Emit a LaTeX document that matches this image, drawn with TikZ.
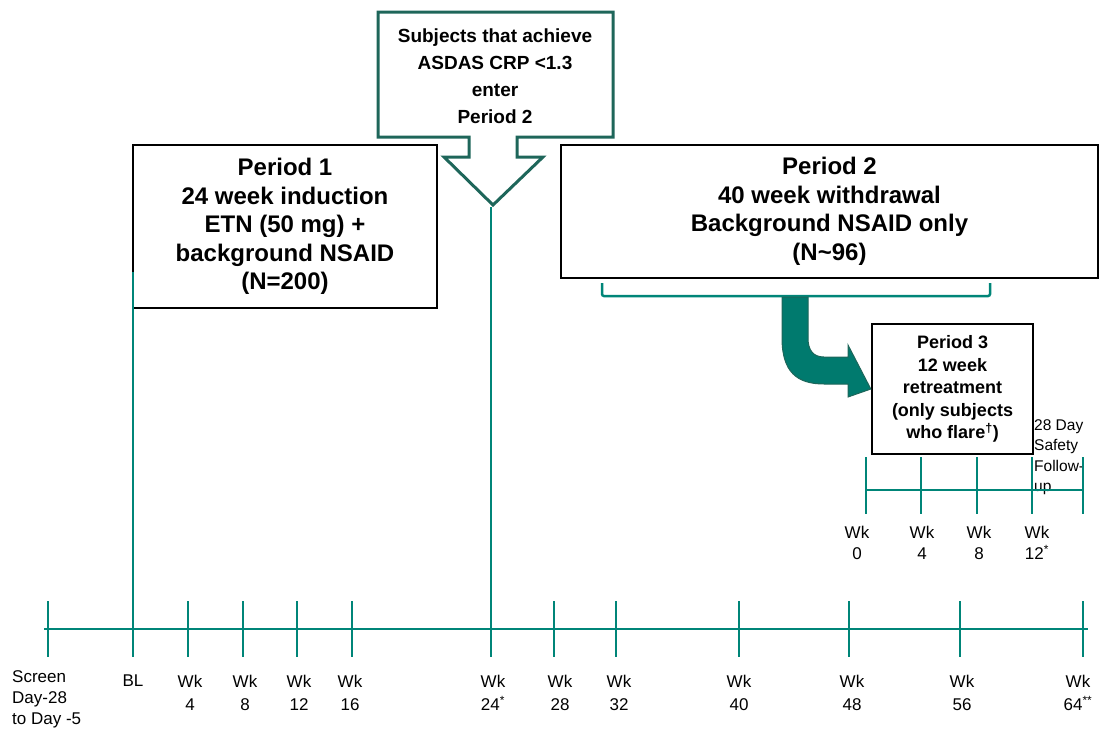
\documentclass[tikz,border=0pt]{standalone}
\usepackage{fontspec}
\setmainfont{Liberation Sans}
\usepackage{tikz}
\usetikzlibrary{positioning}

\definecolor{lineteal}{RGB}{0,133,120}
\definecolor{darkteal}{RGB}{30,102,90}
\definecolor{arrowteal}{RGB}{0,122,110}

\tikzset{
  tickline/.style={draw=lineteal, line width=2.6pt},
  periodbox/.style={draw=black, line width=2.4pt, fill=white, align=center, inner sep=0pt},
  wk/.style={align=center, anchor=north, inner sep=0pt, font=\fontsize{17}{23}\selectfont},
  subwk/.style={align=center, anchor=north, inner sep=0pt, font=\fontsize{17}{21}\selectfont}
}

\begin{document}
\begin{tikzpicture}[x=1pt,y=-1pt]
\useasboundingbox (0,0) rectangle (1102,728);

% main time line
\draw[tickline] (44,629) -- (1088,629);
\foreach \x/\n in {48/scr,133/bl,188/w4,243/w8,297/w12,352/w16,491/w24,554/w28,616/w32,739/w40,849/w48,960/w56,1083/w64}
    \draw[tickline] (\x,601) coordinate (\n) -- (\x,657);

\node[wk, anchor=north west, align=left, font=\fontsize{17}{21}\selectfont] (lscr) at (12,670)
      {Screen\\Day-28\\to Day -5};
\foreach \x/\n/\t in {133/bl/BL,190/w4/Wk\\4,245/w8/Wk\\8,299/w12/Wk\\12,350/w16/Wk\\16,
        493/w24/Wk\\24\textsuperscript{*},560/w28/Wk\\28,619/w32/Wk\\32,739/w40/Wk\\40,
        852/w48/Wk\\48,962/w56/Wk\\56,1078/w64/Wk\\64\textsuperscript{**}}
    \node[wk] (l\n) at (\x,675) {\t};

% period 1
\node[periodbox, minimum width=304pt, minimum height=163pt,
      font=\bfseries\fontsize{24}{28.5}\selectfont] (p1) at (285,226.5)
      {Period 1\\24 week induction\\ETN (50 mg) +\\background NSAID\\(N=200)};
\coordinate (bltop) at (133,272);
\draw[tickline] (bltop) -- (bl) -- (133,657);

% entry callout
\filldraw[draw=darkteal, line width=3pt, fill=white, line join=miter]
    (378,12) -- (613,12) -- (613,137) -- (517,137) -- (517,157) -- (543,157)
    -- (493,205) coordinate (cue) -- (444,157) -- (469,157) -- (469,137) -- (378,137) -- cycle;
\node[align=center, font=\bfseries\fontsize{19}{27}\selectfont] (enter) at (495,76)
      {Subjects that achieve\\ASDAS CRP <1.3\\enter\\Period 2};
\coordinate (cuefoot) at (491,207);
\draw[tickline] (cuefoot) -- (w24) -- (491,657);

% period 2
\node[periodbox, minimum width=537pt, minimum height=133pt,
      font=\bfseries\fontsize{24}{28.5}\selectfont] (p2) at (829.5,211.5)
      {Period 2\\40 week withdrawal\\Background NSAID only\\(N\textasciitilde 96)};
\draw[lineteal, line width=2.5pt, rounded corners=2pt]
    (602,283) -- (602,296) -- (990,296) -- (990,283);

% period 3
\node[periodbox, minimum width=161pt, minimum height=130pt,
      font=\bfseries\fontsize{18}{22.5}\selectfont] (p3) at (952.5,389)
      {Period 3\\12 week\\retreatment\\(only subjects\\who flare\textsuperscript{†})};
\filldraw[fill=arrowteal, draw=darkteal, line width=1pt]
    (782,297) -- (782,338) .. controls (782,372) and (797,384) .. (824,384)
    -- (848,384) -- (848,397) -- (p3.west) -- (848,345) -- (848,357) -- (824,357)
    .. controls (813,357) and (808,350) .. (808,338) -- (808,297) -- cycle;

\node[anchor=north west, align=left, inner sep=0pt, font=\fontsize{15.5}{20.5}\selectfont]
      (fu) at (1034,419) {28 Day\\Safety\\Follow-\\up};

% retreatment time line
\draw[tickline] (866,490) -- (1083,490);
\foreach \x/\n in {866/s0,921/s4,977/s8,1032/s12,1083/s16}
    \draw[tickline] (\x,457) coordinate (\n) -- (\x,514);
\foreach \x/\n/\t in {857/s0/Wk\\0,922/s4/Wk\\4,979/s8/Wk\\8,1037/s12/Wk\\12\textsuperscript{*}}
    \node[subwk] (l\n) at (\x,526) {\t};

\end{tikzpicture}
\end{document}
